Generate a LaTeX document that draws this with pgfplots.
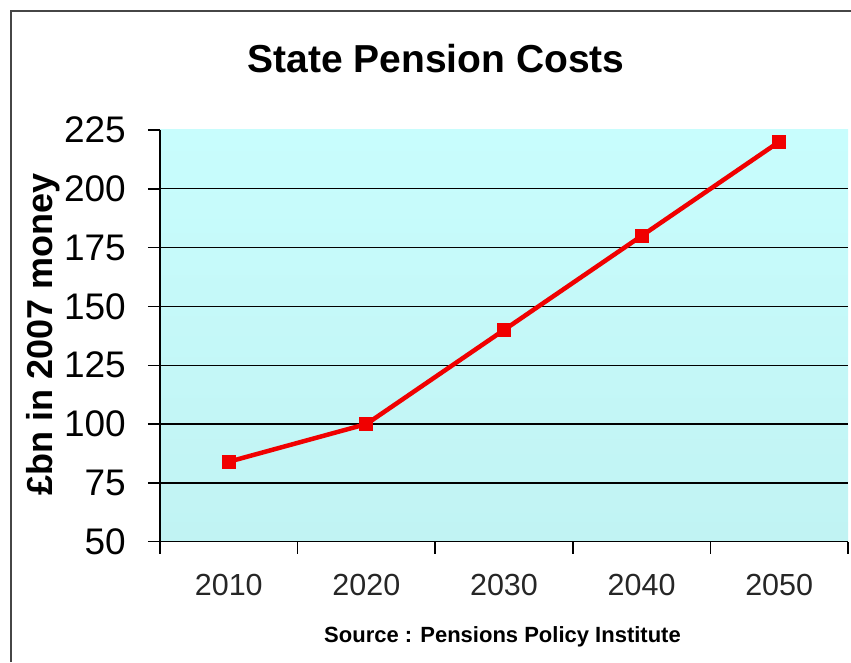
\documentclass[border=0pt]{standalone}
\usepackage{pgfplots}
\pgfplotsset{compat=1.18}
\usepackage{fontspec}
\setmainfont{Liberation Sans}
\definecolor{bgtop}{RGB}{200,253,253}
\definecolor{bgbot}{RGB}{193,243,243}
\definecolor{linered}{RGB}{240,0,0}
\definecolor{framegray}{RGB}{70,70,70}
\begin{document}
\begin{tikzpicture}[x=1pt,y=1pt]
\useasboundingbox (0,0) rectangle (851,662);
\draw[framegray, line width=2.5pt] (11,0) -- (11,651) -- (851,651);
\begin{axis}[
  at={(160pt,120.3pt)}, anchor=south west,
  scale only axis, width=688pt, height=411.7pt,
  xmin=-0.5, xmax=4.5, ymin=50, ymax=225,
  axis x line*=bottom, axis y line*=left,
  axis line style={black, line width=1.5pt},
  axis background/.style={top color=bgtop, bottom color=bgbot},
  xtick={-0.5,0.5,...,4.5}, xticklabels={},
  extra x ticks={0,1,2,3,4},
  extra x tick labels={2010,2020,2030,2040,2050},
  extra x tick style={xtick style={draw=none}},
  ytick={50,75,...,200}, ymajorgrids,
  extra y ticks={225}, extra y tick style={grid=none},
  grid style={black, line width=1.3pt},
  tick align=outside, major tick length=12pt,
  tick style={black, line width=1.5pt},
  /pgf/number format/assume math mode=true,
  yticklabel style={font=\fontsize{37}{37}\selectfont, inner sep=0pt, anchor=east, xshift=-22pt},
  xticklabel style={font=\fontsize{30.5}{30.5}\selectfont, inner sep=0pt, anchor=north, yshift=-20pt, text=black!85},
  clip=false,
]
\addplot[linered, line width=4.5pt, mark=square*, mark size=6.5pt, mark options={solid, fill=linered, draw=linered, line width=0pt}]
  coordinates {(0,84) (1,100) (2,140) (3,180) (4,220)};
\end{axis}
\node[anchor=base, font=\fontsize{39}{39}\selectfont\bfseries] at (436,589) {State Pension Costs};
\node[anchor=base, rotate=90, font=\fontsize{36}{36}\selectfont\bfseries] at (52,327.5) {£bn in 2007 money};
\node[anchor=base, font=\fontsize{22}{22}\selectfont\bfseries] at (502.5,20) {Source : Pensions Policy Institute};
\end{tikzpicture}
\end{document}
